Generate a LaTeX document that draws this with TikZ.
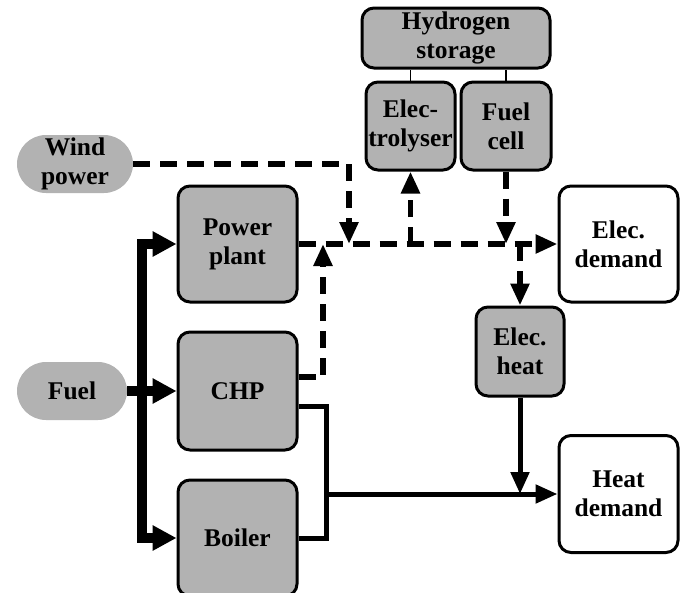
\documentclass[tikz,border=0pt]{standalone}
\usepackage{fontspec}
\setmainfont{Liberation Serif}
\usetikzlibrary{arrows.meta}
\begin{document}
\begin{tikzpicture}[x=1pt, y=-1pt, font=\fontsize{25.5}{29}\selectfont\bfseries,
		blok/.style={draw, line width=3pt, fill=black!30, rounded corners=12pt, align=center, inner sep=0pt},
		dmd/.style={blok, fill=white},
		src/.style={fill=black!30, rounded corners=29pt, minimum height=58pt, align=center, inner sep=0pt},
		elec/.style={line width=5.5pt, dash pattern=on 17pt off 10pt, -{Triangle[length=22pt,width=18pt]}},
		heat/.style={line width=5pt},
		fuel/.style={line width=10pt, -{Triangle[length=24pt,width=24pt]}},
		h2/.style={line width=1.5pt}]
		\useasboundingbox (0,0) rectangle (683,592);
		%Sources
		\node[src, minimum width=116pt] (Wind) at (75,164) {Wind\\power};
		\node[src, minimum width=110pt] (Fuel) at (72,391) {Fuel};
		%Unites de production
		\node[blok, minimum width=119pt, minimum height=116pt] (PP) at (237.5,244) {Power\\plant};
		\node[blok, minimum width=119pt, minimum height=118pt] (CHP) at (237.5,391) {CHP};
		\node[blok, minimum width=119pt, minimum height=116pt] (Boil) at (237.5,538) {Boiler};
		%Stockage hydrogene
		\node[blok, minimum width=188pt, minimum height=60pt] (H2) at (456,38) {Hydrogen\\storage};
		\node[blok, minimum width=89pt, minimum height=88pt] (Elyz) at (410.5,126) {Elec-\\trolyser};
		\node[blok, minimum width=90pt, minimum height=88pt] (FC) at (506,126) {Fuel\\cell};
		\node[blok, minimum width=88pt, minimum height=89pt] (ElH) at (520,351.5) {Elec.\\heat};
		%Demandes
		\node[dmd, minimum width=119pt, minimum height=116pt] (ElD) at (618.5,244) {Elec.\\demand};
		\node[dmd, minimum width=119pt, minimum height=117pt] (HeD) at (618.5,494) {Heat\\demand};
		%Points de jonction
		\coordinate (jW) at (349,244);
		\coordinate (jC) at (323,244);
		\coordinate (jE) at (410.5,244);
		\coordinate (jF) at (506,244);
		\coordinate (jH) at (520,244);
		\coordinate (fM) at (142,391);
		\coordinate (hV) at (326,538);
		\coordinate (hJ) at (326,494);
		\coordinate (jQ) at (520,494);
		%Electricite
		\draw[elec] (PP.east) -- (ElD.west);
		\draw[elec] (Wind.east) -| (jW);
		\draw[elec] ([yshift=14pt]CHP.east) -| (jC);
		\draw[elec] (jE) -- (Elyz.south);
		\draw[elec] (FC.south) -- (jF);
		\draw[elec] (jH) -- (ElH.north);
		\draw[h2] (Elyz.north) -- (H2.south -| Elyz.north);
		\draw[h2] (FC.north) -- (H2.south -| FC.north);
		%Combustible
		\draw[fuel] (Fuel.east) -- (CHP.west);
		\draw[fuel] (fM) |- (PP.west);
		\draw[fuel] (fM) |- (Boil.west);
		%Chaleur
		\draw[heat] ([yshift=-15pt]CHP.east) -| (hV) -- (Boil.east);
		\draw[heat, -{Triangle[length=22pt,width=18pt]}] (hJ) -- (HeD.west);
		\draw[heat, -{Triangle[length=22pt,width=18pt]}] (ElH.south) -- (jQ);
	\end{tikzpicture}
\end{document}
